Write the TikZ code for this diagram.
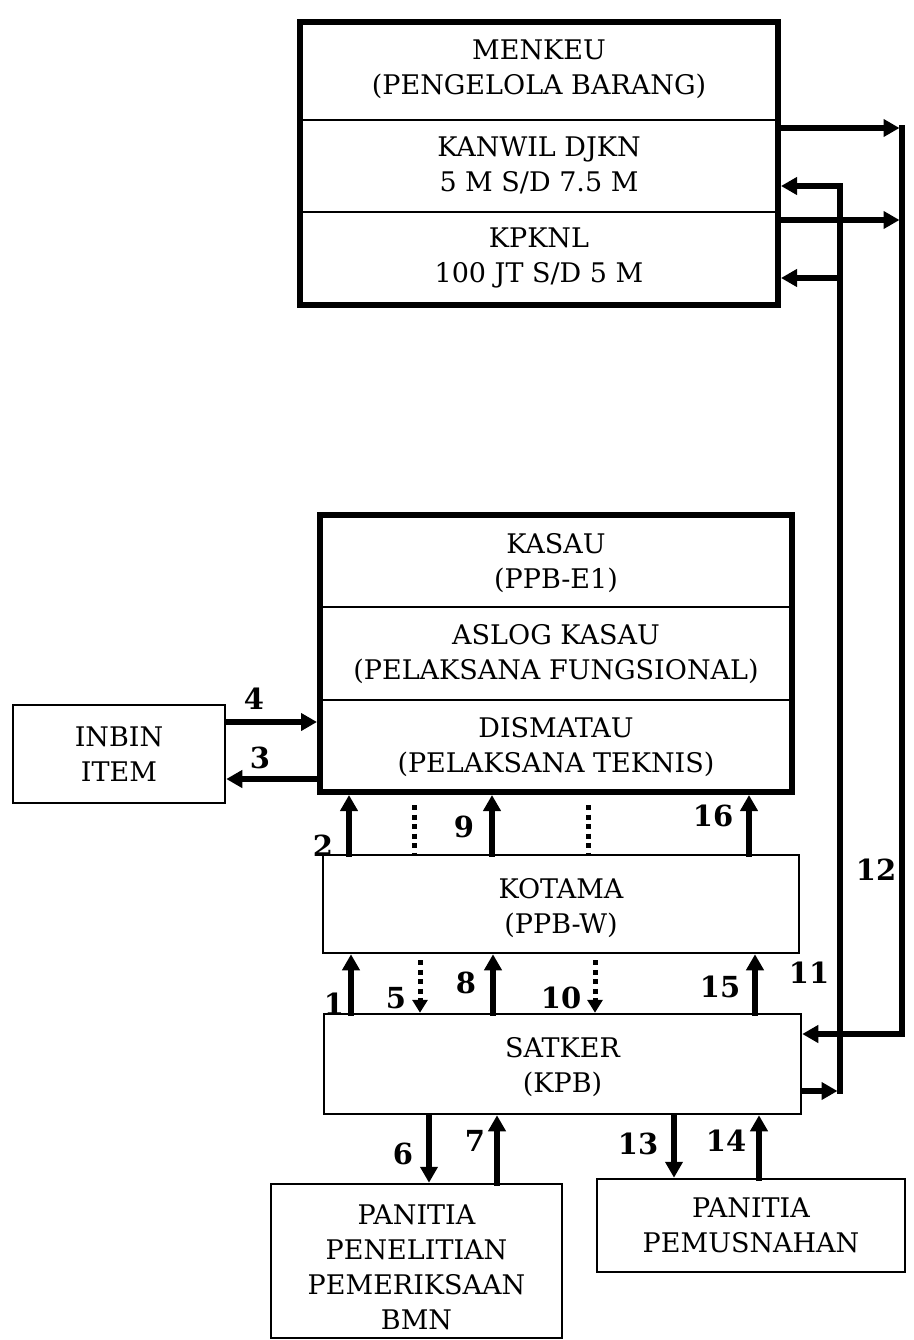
\documentclass[tikz,border=0pt]{standalone}
\usepackage{fontspec}
\setmainfont{DejaVu Serif}
\usetikzlibrary{arrows.meta,calc}
\begin{document}
\begin{tikzpicture}[x=1pt,y=-1pt,
  box/.style={draw,line width=2.5pt,inner sep=0pt},
  bigbox/.style={draw,line width=6pt,inner sep=0pt},
  txt/.style={align=center,font=\fontsize{27}{35}\selectfont},
  num/.style={font=\fontsize{29}{29}\selectfont\bfseries},
  arr/.style={line width=5.5pt,line cap=rect,-{Triangle[length=16pt,width=17pt]}},
  dot/.style={line width=5pt,dash pattern=on 5pt off 4.5pt},
  div/.style={line width=2.5pt},
]
\useasboundingbox[fill=white] (0,0) rectangle (913,1340);
% MENKEU block
\node[bigbox,minimum width=478pt,minimum height=283pt] (menkeu) at (539,163.5) {};
\node[txt] (m1) at (539,69) {MENKEU\\(PENGELOLA BARANG)};
\node[txt] (m2) at (539,165) {KANWIL DJKN\\5 M S/D 7.5 M};
\node[txt] (m3) at (539,258) {KPKNL\\100 JT S/D 5 M};
\draw[div] (menkeu.west |- 0,120) -- (menkeu.east |- 0,120);
\draw[div] (menkeu.west |- 0,212) -- (menkeu.east |- 0,212);
% KASAU block
\node[bigbox,minimum width=472pt,minimum height=277pt] (kasau) at (556,653.5) {};
\node[txt] (k1) at (556,563) {KASAU\\(PPB-E1)};
\node[txt] (k2) at (556,654) {ASLOG KASAU\\(PELAKSANA FUNGSIONAL)};
\node[txt] (k3) at (556,747) {DISMATAU\\(PELAKSANA TEKNIS)};
\draw[div] (kasau.west |- 0,607) -- (kasau.east |- 0,607);
\draw[div] (kasau.west |- 0,700) -- (kasau.east |- 0,700);
% other boxes
\node[box,minimum width=212pt,minimum height=98pt] (inbin) at (119,754) {};
\node[txt] (inbint) at (119,754) {INBIN\\ITEM};
\node[box,minimum width=476pt,minimum height=98pt] (kotama) at (561,904) {};
\node[txt] (kotamat) at (561,908) {KOTAMA\\(PPB-W)};
\node[box,minimum width=477pt,minimum height=100pt] (satker) at (562.5,1064) {};
\node[txt] (satkert) at (562.5,1067) {SATKER\\(KPB)};
\node[box,minimum width=291pt,minimum height=154pt] (pan1) at (416.5,1261) {};
\node[txt] (pan1t) at (416.5,1267) {PANITIA\\PENELITIAN\\PEMERIKSAAN\\BMN};
\node[box,minimum width=308pt,minimum height=93pt] (pan2) at (751,1225.5) {};
\node[txt] (pan2t) at (751,1225) {PANITIA\\PEMUSNAHAN};
% column coordinates
\coordinate (c2) at (349,0);
\coordinate (d1) at (414,0);
\coordinate (c9) at (492,0);
\coordinate (d2) at (588,0);
\coordinate (c16) at (749,0);
\coordinate (c1) at (351,0);
\coordinate (c5) at (420,0);
\coordinate (c8) at (493,0);
\coordinate (c10) at (595,0);
\coordinate (c15) at (755,0);
\coordinate (c6) at (429,0);
\coordinate (c7) at (497,0);
\coordinate (c13) at (674,0);
\coordinate (c14) at (759,0);
\coordinate (r4) at (0,722);
\coordinate (r3) at (0,779);
% INBIN arrows
\draw[arr] (inbin.east |- r4) -- (kasau.west |- r4);
\draw[arr] (kasau.west |- r3) -- (inbin.east |- r3);
% KOTAMA -> KASAU
\draw[arr] (kotama.north -| c2) -- (kasau.south -| c2);
\draw[arr] (kotama.north -| c9) -- (kasau.south -| c9);
\draw[arr] (kotama.north -| c16) -- (kasau.south -| c16);
\draw[dot] ([yshift=-10pt]kasau.south -| d1) -- (kotama.north -| d1);
\draw[dot] ([yshift=-10pt]kasau.south -| d2) -- (kotama.north -| d2);
% SATKER -> KOTAMA
\draw[arr] (satker.north -| c1) -- (kotama.south -| c1);
\draw[arr] (satker.north -| c8) -- (kotama.south -| c8);
\draw[arr] (satker.north -| c15) -- (kotama.south -| c15);
\draw[dot,-{Triangle[length=13pt,width=15pt]}] ([yshift=-6pt]kotama.south -| c5) -- (satker.north -| c5);
\draw[dot,-{Triangle[length=13pt,width=15pt]}] ([yshift=-6pt]kotama.south -| c10) -- (satker.north -| c10);
% SATKER <-> PANITIA
\draw[arr] (satker.south -| c6) -- (pan1.north -| c6);
\draw[arr] (pan1.north -| c7) -- (satker.south -| c7);
\draw[arr] (satker.south -| c13) -- (pan2.north -| c13);
\draw[arr] (pan2.north -| c14) -- (satker.south -| c14);
% right side connectors
\coordinate (o1) at (902,128);
\coordinate (o2) at (902,220);
\coordinate (o3) at (902,1034);
\draw[arr] (menkeu.east |- o1) -- ([xshift=-2.5pt]o1);
\draw[arr] (menkeu.east |- o2) -- ([xshift=-2.5pt]o2);
\draw[arr] (o1) -- (o3) -- (satker.east |- o3);
\coordinate (i1) at (840,1091);
\coordinate (i2) at (840,186);
\coordinate (i3) at (840,278);
\draw[arr] (satker.east |- i1) -- ([xshift=-2.5pt]i1);
\draw[arr] (i1) -- (i2) -- (menkeu.east |- i2);
\draw[arr] (i3) -- (menkeu.east |- i3);
% labels
\node[num] (n4) at (254,699) {4};
\node[num] (n3) at (260,758) {3};
\node[num] (n2) at (323,846) {2};
\node[num] (n9) at (464,827) {9};
\node[num] (n16) at (713,816) {16};
\node[num] (n1) at (334,1004) {1};
\node[num] (n5) at (396,998) {5};
\node[num] (n8) at (466,983) {8};
\node[num] (n10) at (561,998) {10};
\node[num] (n15) at (720,987) {15};
\node[num] (n11) at (809,973) {11};
\node[num] (n12) at (876,870) {12};
\node[num] (n6) at (403,1154) {6};
\node[num] (n7) at (475,1141) {7};
\node[num] (n13) at (638,1144) {13};
\node[num] (n14) at (726,1141) {14};
\end{tikzpicture}
\end{document}
